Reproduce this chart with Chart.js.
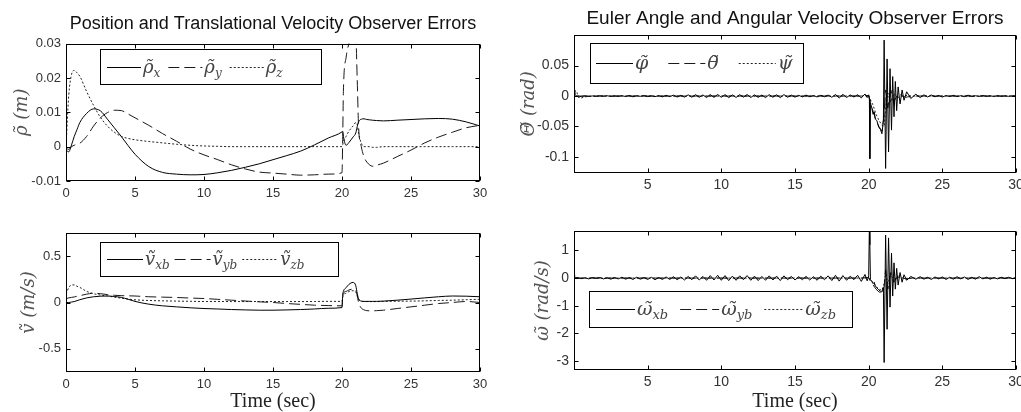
<!DOCTYPE html>
<html>
<head>
<meta charset="utf-8">
<script src="https://cdn.jsdelivr.net/npm/chart.js@4/dist/chart.umd.min.js"></script>
<style>
    html, body { margin: 0; padding: 0; background: #fff; overflow: hidden; width: 1021px; height: 412px; }
    .panel { position: absolute; }
</style>
</head>
<body>
<div class="panel" style="left:0;top:0"><canvas id="posChart" width="510" height="200"></canvas></div>
<div class="panel" style="left:510px;top:0"><canvas id="eulerChart" width="520" height="200"></canvas></div>
<div class="panel" style="left:0;top:200px"><canvas id="velChart" width="510" height="212"></canvas></div>
<div class="panel" style="left:510px;top:200px"><canvas id="omegaChart" width="520" height="212"></canvas></div>
<script>
// ---- data ----
// left column: position / translational velocity errors
const tPos = [0, 0.2, 0.4, 0.6, 0.8, 1, 1.5, 2, 2.5, 3, 3.5, 4, 4.5, 5, 6, 7, 8, 9, 10, 11, 12, 13, 14, 15, 16, 17, 18, 19, 20,
    20.05, 20.1, 20.3, 20.5, 20.8, 21, 21.1, 21.2, 21.4, 21.6, 21.8, 22, 22.2, 22.5, 23, 24, 25, 26, 27, 28, 29, 30];

const rhoX = [-0.001, -0.0015, 0.0005, 0.003, 0.005, 0.007, 0.0097, 0.011, 0.0104, 0.008, 0.0055, 0.003, 0.0003, -0.0022,
    -0.0058, -0.0075, -0.008, -0.0082, -0.0081, -0.0076, -0.0069, -0.006, -0.005, -0.0038, -0.0026, -0.0013, 0.0005, 0.0025, 0.0043,
    0.0045, 0.003, 0.0004, 0.0012, 0.0028, 0.004, 0.0058, 0.0072, 0.008, 0.0081, 0.0079, 0.0078, 0.0077, 0.0076,
    0.0075, 0.0077, 0.0079, 0.0081, 0.0082, 0.008, 0.0072, 0.006];
const rhoY = [-0.0005, -0.0008, 0, 0.0004, 0.0007, 0.001, 0.003, 0.006, 0.0084, 0.0099, 0.0106, 0.0105, 0.0095, 0.0084,
    0.0062, 0.0038, 0.0016, -0.0007, -0.0024, -0.0038, -0.0053, -0.0065, -0.0074, -0.0077, -0.008, -0.0083, -0.0082, -0.008, -0.0076,
    0.002, 0.016, 0.026, 0.03, 0.033, 0.032, 0.02, 0.006, 0, -0.003, -0.0045, -0.0053, -0.0057, -0.0054,
    -0.0048, -0.0029, -0.001, 0.0011, 0.0028, 0.0042, 0.0055, 0.0062];
const rhoZ = [0, 0.015, 0.021, 0.0222, 0.0215, 0.0205, 0.016, 0.012, 0.0085, 0.006, 0.0042, 0.003, 0.0024, 0.002,
    0.0015, 0.0011, 0.0007, 0.0004, 0.0002, 0.0001, 0, 0, 0, 0, 0, 0, 0, 0, 0,
    0.0005, 0.0015, 0.003, 0.0045, 0.006, 0.007, 0.0065, 0.004, 0.001, 0, 0, 0, -0.0002, -0.0002,
    0, 0, 0, 0, 0, 0, 0, 0];

const vXb = [0, 0, 0.005, 0.01, 0.02, 0.03, 0.05, 0.062, 0.068, 0.07, 0.065, 0.055, 0.035, 0.012,
    -0.018, -0.036, -0.047, -0.057, -0.065, -0.07, -0.076, -0.08, -0.083, -0.083, -0.08, -0.076, -0.07, -0.062, -0.055,
    0.08, 0.12, 0.16, 0.195, 0.217, 0.18, 0.1, 0.04, 0.015, 0.012, 0.012, 0.012, 0.012, 0.012,
    0.015, 0.025, 0.037, 0.05, 0.062, 0.07, 0.068, 0.062];
const vYb = [0.04, 0.05, 0.055, 0.06, 0.068, 0.074, 0.09, 0.1, 0.095, 0.085, 0.078, 0.074, 0.072, 0.07,
    0.062, 0.058, 0.054, 0.048, 0.043, 0.034, 0.025, 0.016, 0.007, 0, -0.011, -0.02, -0.029, -0.033, -0.036,
    0.06, 0.1, 0.12, 0.135, 0.145, 0.13, 0.08, 0, -0.06, -0.08, -0.088, -0.09, -0.09, -0.088,
    -0.083, -0.065, -0.047, -0.029, -0.011, 0, 0.011, 0];
const vZb = [0.09, 0.16, 0.19, 0.19, 0.175, 0.163, 0.12, 0.095, 0.08, 0.07, 0.058, 0.047, 0.037, 0.029,
    0.022, 0.018, 0.015, 0.013, 0.011, 0.011, 0.01, 0.01, 0.011, 0.01, 0.01, 0.01, 0.011, 0.012, 0.012,
    0.05, 0.08, 0.1, 0.118, 0.127, 0.11, 0.07, 0.035, 0.015, 0.01, 0.01, 0.01, 0.01, 0.01,
    0.012, 0.014, 0.015, 0.018, 0.022, 0.025, 0.03, 0.035];

// right column: euler angle / angular velocity errors (noisy solid traces)
const tAng = [0, 0.25, 0.5, 0.75, 1, 1.25, 1.5, 1.75, 2, 2.25, 2.5, 2.75, 3, 3.25, 3.5, 3.75, 4, 4.25, 4.5, 4.75,
    5, 5.25, 5.5, 5.75, 6, 6.25, 6.5, 6.75, 7, 7.25, 7.5, 7.75, 8, 8.25, 8.5, 8.75, 9, 9.25, 9.5, 9.75,
    10, 10.25, 10.5, 10.75, 11, 11.25, 11.5, 11.75, 12, 12.25, 12.5, 12.75, 13, 13.25, 13.5, 13.75, 14, 14.25, 14.5, 14.75,
    15, 15.25, 15.5, 15.75, 16, 16.25, 16.5, 16.75, 17, 17.25, 17.5, 17.75, 18, 18.25, 18.5, 18.75, 19, 19.25, 19.5, 19.75,
    19.9, 20.0, 20.05, 20.08, 20.12, 20.2, 20.3, 20.38, 20.45, 20.55, 20.68, 20.8, 20.9, 21.0, 21.05, 21.15, 21.25, 21.35,
    21.45, 21.55, 21.63, 21.72, 21.81, 21.9, 22.0, 22.13, 22.27, 22.4, 22.58, 22.86, 23.2,
    23.5, 23.75, 24, 24.25, 24.5, 24.75, 25, 25.25, 25.5, 25.75, 26, 26.25, 26.5, 26.75, 27, 27.25, 27.5, 27.75,
    28, 28.25, 28.5, 28.75, 29, 29.25, 29.5, 29.75, 30];

const phi = [0, 0.0005, -0.0005, 0.0003, -0.0008, 0.0002, -0.0005, 0.0004,
    -0.0003, 0.0005, -0.0006, 0.0002, -0.0004, 0.0006, -0.0008, 0.001,
    -0.0012, 0.0006, -0.0005, 0.0008, -0.0009, 0.0004, -0.001, 0.0007,
    -0.0013, 0.0011, -0.0009, 0.0014, -0.0016, 0.0012, -0.0018, 0.002,
    -0.0019, 0.0023, -0.0021, 0.0018, -0.0024, 0.0025, -0.0022, 0.0026,
    -0.002, 0.0024, -0.0026, 0.0019, -0.0023, 0.0022, -0.0018, 0.0025,
    -0.0024, 0.002, -0.0022, 0.0017, -0.0025, 0.0023, -0.0019, 0.0021,
    -0.0026, 0.0024, -0.002, 0.0015, -0.0018, 0.0012, -0.0014, 0.0016,
    -0.0012, 0.0009, -0.0015, 0.0013, -0.0011, 0.0016, -0.002, 0.0026,
    -0.0032, 0.0028, -0.0024, 0.0019, -0.0016, 0.0022, -0.003, 0.0034,
    -0.0025, 0.002, -0.005, -0.103, -0.012, -0.018, -0.03, -0.026, -0.038, -0.04,
    -0.051, -0.055, -0.062, -0.04, 0.092, -0.119, 0.061, -0.092, 0.045, -0.056,
    0.032, -0.034, 0.024, -0.024, 0.015, -0.013, 0.01, -0.007, 0.007, -0.004, 0.003,
    -0.0025, 0.002, -0.0015, 0.0018, -0.0012, 0.001, -0.0016, 0.0008, -0.0007, 0.0012,
    -0.0009, 0.0006, -0.001, 0.0014, -0.0008, 0.0005, -0.0006, 0.0009, -0.0005, 0.0004,
    -0.0007, 0.0006, -0.0004, 0.0003, -0.0005, 0.0004, -0.0002];

const omegaX = [0, 0.02, -0.02, 0.01, -0.03, 0.02, -0.01, 0.02,
    -0.03, 0.01, -0.04, 0.02, -0.03, 0.03, -0.04, 0.02,
    -0.05, 0.03, -0.04, 0.02, -0.05, 0.03, -0.06, 0.02,
    -0.05, 0.04, -0.05, 0.05, -0.06, 0.04, -0.07, 0.06,
    -0.06, 0.08, -0.07, 0.06, -0.08, 0.09, -0.07, 0.1,
    -0.08, 0.09, -0.09, 0.07, -0.08, 0.08, -0.06, 0.09,
    -0.08, 0.07, -0.09, 0.06, -0.08, 0.08, -0.07, 0.07,
    -0.09, 0.08, -0.06, 0.06, -0.07, 0.05, -0.06, 0.06,
    -0.07, 0.05, -0.08, 0.07, -0.06, 0.08, -0.09, 0.1,
    -0.11, 0.09, -0.08, 0.07, -0.06, 0.1, -0.12, 0.13,
    -0.1, 0.08, 1.9, 1.2, -0.05, -0.12, -0.2, -0.15, -0.3, -0.35,
    -0.42, -0.48, -0.5, -0.35, -3.05, 1.55, -1.85, 1.45, -1.05, 0.9,
    -0.65, 0.55, -0.4, 0.35, -0.25, 0.2, -0.15, 0.12, -0.08, 0.06, -0.04,
    0.05, -0.04, 0.03, -0.05, 0.04, -0.03, 0.04, -0.05, 0.03, -0.04,
    0.05, -0.03, 0.04, -0.05, 0.03, -0.04, 0.05, -0.03, 0.03, -0.04,
    0.02, -0.03, 0.03, -0.02, 0.03, -0.02, 0.01];

// sparser samples for the dashed / dotted traces (mostly hidden under the solid one)
const tAngS = [0, 0.05, 0.1, 0.2, 0.3, 0.5, 1, 2, 4, 6, 8, 10, 12, 14, 16, 18, 19.5, 20,
    20.1, 20.3, 20.5, 20.7, 20.9, 21.05, 21.15, 21.3, 21.5, 21.7, 22, 22.5, 23, 25, 27, 30];
const theta = [0.02, 0.008, 0.002, -0.003, -0.002, 0, 0, 0, 0, 0, 0, 0, 0, 0, 0, 0, 0, 0.001,
    -0.01, -0.025, -0.04, -0.05, -0.058, -0.03, 0.01, -0.02, 0.01, -0.01, 0.004, -0.002, 0, 0, 0, 0];
const psi = [0, 0.006, 0.009, 0.006, -0.002, -0.003, 0, 0, 0, 0, 0, 0, 0, 0, 0, 0, 0, 0.001,
    -0.005, -0.015, -0.03, -0.04, -0.048, -0.05, -0.02, 0.005, -0.01, 0.004, -0.002, 0.001, 0, 0, 0, 0];
const omegaY = [0.05, 0.03, 0.01, -0.02, -0.01, 0, 0, 0, 0, 0, 0, 0, 0, 0, 0, 0, 0, 0.02,
    -0.1, -0.25, -0.4, -0.5, -0.55, -0.3, 0.3, -0.4, 0.2, -0.15, 0.08, -0.03, 0, 0, 0, 0];
const omegaZ = [0.12, 0.1, 0.05, 0.02, 0, 0, 0, 0, 0, 0, 0, 0, 0, 0, 0, 0, 0, 0.01,
    -0.05, -0.15, -0.3, -0.4, -0.45, -0.2, 0.15, -0.2, 0.1, -0.05, 0.03, -0.01, 0, 0, 0, 0];

// labels and ticks
const posLabels = ['ρ̃_x', 'ρ̃_y', 'ρ̃_z'];
const velLabels = ['ṽ_xb', 'ṽ_yb', 'ṽ_zb'];
const eulerLabels = ['φ̃', 'θ̃', 'ψ̃'];
const omegaLabels = ['ω̃_xb', 'ω̃_yb', 'ω̃_zb'];

const xTicksLeft = [0, 5, 10, 15, 20, 25, 30];
const xTickLabelsLeft = ['0', '5', '10', '15', '20', '25', '30'];
const xTicksRight = [5, 10, 15, 20, 25, 30];
const xTickLabelsRight = ['5', '10', '15', '20', '25', '30'];
const posTicks = [-0.01, 0, 0.01, 0.02, 0.03];
const posTickLabels = ['-0.01', '0', '0.01', '0.02', '0.03'];
const velTicks = [-0.5, 0, 0.5];
const velTickLabels = ['-0.5', '0', '0.5'];
const eulerTicks = [-0.1, -0.05, 0, 0.05];
const eulerTickLabels = ['-0.1', '-0.05', '0', '0.05'];
const omegaTicks = [-3, -2, -1, 0, 1];
const omegaTickLabels = ['-3', '-2', '-1', '0', '1'];

// ---- drawing ----
const SANS = '"Liberation Sans", Arial, Helvetica, sans-serif';
const SERIF = '"Liberation Serif", "Times New Roman", serif';
const MATH = '"DejaVu Serif", serif';
const lineDashes = [[], [11, 5], [2, 2]];
const lineColors = ['#000', '#1a1a1a', '#222'];

function toPoints(ts, vs) {
    return ts.map((t, i) => ({ x: t, y: vs[i] }));
}

function makeDatasets(labels, times, series, smooth) {
    return series.map((s, i) => ({
        label: labels[i],
        data: toPoints(times[i], s),
        borderColor: lineColors[i],
        borderWidth: 1,
        borderDash: lineDashes[i],
        pointRadius: 0,
        fill: false,
        tension: smooth ? 0.4 : 0,
        cubicInterpolationMode: smooth ? 'monotone' : 'default'
    }));
}

// MATLAB style box: frame, inward ticks on all sides, boxed legend
const matlabBox = {
    id: 'matlabBox',
    afterDatasetsDraw(chart, args, opts) {
        const { ctx, chartArea: a } = chart;
        const xs = chart.scales.x;
        const ys = chart.scales.y;
        const L = Math.round(a.left) + 0.5, R = Math.round(a.right) - 0.5;
        const T = Math.round(a.top) + 0.5, B = Math.round(a.bottom) - 0.5;
        ctx.save();
        ctx.strokeStyle = '#000';
        ctx.lineWidth = 1;
        ctx.setLineDash([]);
        ctx.beginPath();
        xs.ticks.forEach(t => {
            const px = Math.round(xs.getPixelForValue(t.value)) + 0.5;
            ctx.moveTo(px, B); ctx.lineTo(px, B - opts.tick);
            ctx.moveTo(px, T); ctx.lineTo(px, T + opts.tick);
        });
        ys.ticks.forEach(t => {
            const py = Math.round(ys.getPixelForValue(t.value)) + 0.5;
            ctx.moveTo(L, py); ctx.lineTo(L + opts.tick, py);
            ctx.moveTo(R, py); ctx.lineTo(R - opts.tick, py);
        });
        ctx.stroke();
        ctx.strokeRect(L, T, R - L, B - T);

        const lg = opts.legend;
        if (lg) {
            ctx.fillStyle = '#fff';
            ctx.fillRect(lg.x, lg.y, lg.w, lg.h);
            ctx.strokeStyle = '#000';
            ctx.strokeRect(lg.x + 0.5, lg.y + 0.5, lg.w, lg.h);
            let cx = lg.x + lg.pad;
            const cy = Math.round(lg.y + lg.h / 2) + 0.5;
            chart.data.datasets.forEach(ds => {
                ctx.strokeStyle = ds.borderColor;
                ctx.setLineDash(ds.borderDash);
                ctx.beginPath();
                ctx.moveTo(cx, cy);
                ctx.lineTo(cx + lg.line, cy);
                ctx.stroke();
                cx += lg.line + 2;
                const parts = ds.label.split('_');
                ctx.fillStyle = '#444';
                ctx.textBaseline = 'alphabetic';
                ctx.textAlign = 'left';
                ctx.font = 'italic ' + lg.size + 'px ' + MATH;
                const base = cy + lg.size * 0.3;
                ctx.fillText(parts[0], cx, base);
                cx += ctx.measureText(parts[0]).width;
                if (parts[1]) {
                    ctx.font = 'italic ' + lg.sub + 'px ' + MATH;
                    ctx.fillText(parts[1], cx, base + 4);
                    cx += ctx.measureText(parts[1]).width;
                }
                cx += lg.gap;
            });
        }
        ctx.restore();
    }
};

function makeOptions(cfg) {
    return {
        responsive: false,
        animation: false,
        events: [],
        layout: { padding: { left: 0, right: cfg.padRight, top: cfg.padTop, bottom: 0 } },
        plugins: {
            legend: { display: false },
            tooltip: { enabled: false },
            title: cfg.title ? {
                display: true,
                text: cfg.title,
                fullSize: false,
                color: '#111',
                font: { family: SANS, size: cfg.titleSize, weight: 'normal', lineHeight: 1.2 },
                padding: cfg.titlePad
            } : { display: false },
            matlabBox: { tick: 4, legend: cfg.legend }
        },
        scales: {
            x: {
                type: 'linear',
                min: 0,
                max: 30,
                afterBuildTicks: s => { s.ticks = cfg.xTicks.map(v => ({ value: v })); },
                afterFit: s => { s.height = cfg.xHeight; },
                grid: { display: false, drawTicks: false },
                border: { display: false },
                ticks: {
                    autoSkip: false,
                    maxRotation: 0,
                    padding: cfg.xTickPad,
                    color: '#333',
                    font: { family: SANS, size: cfg.tickSize },
                    callback: (v, i) => cfg.xLabels[i]
                },
                title: cfg.xTitle ? {
                    display: true,
                    text: cfg.xTitle,
                    color: '#222',
                    font: { family: SERIF, size: 20, lineHeight: 1 },
                    padding: { top: 0, bottom: 0 }
                } : { display: false }
            },
            y: {
                type: 'linear',
                min: cfg.yMin,
                max: cfg.yMax,
                afterBuildTicks: s => { s.ticks = cfg.yTicks.map(v => ({ value: v })); },
                afterFit: s => { s.width = cfg.yWidth; },
                grid: { display: false, drawTicks: false },
                border: { display: false },
                ticks: {
                    autoSkip: false,
                    padding: 5,
                    color: '#333',
                    font: { family: SANS, size: cfg.tickSize },
                    callback: (v, i) => cfg.yLabels[i]
                },
                title: {
                    display: true,
                    text: cfg.yTitle,
                    color: '#555',
                    font: { family: MATH, size: 18, style: 'italic', lineHeight: 1.2 },
                    padding: { top: cfg.yTitlePad, bottom: 0 }
                }
            }
        }
    };
}

new Chart(document.getElementById('posChart'), {
    type: 'line',
    data: { datasets: makeDatasets(posLabels, [tPos, tPos, tPos], [rhoX, rhoY, rhoZ], true) },
    options: makeOptions({
        title: 'Position and Translational Velocity Observer Errors', titleSize: 18,
        titlePad: { top: 13, bottom: 9 }, padTop: 0, padRight: 30,
        xTicks: xTicksLeft, xLabels: xTickLabelsLeft, xHeight: 19, xTickPad: 5, tickSize: 13,
        yMin: -0.01, yMax: 0.03, yTicks: posTicks, yLabels: posTickLabels, yWidth: 66,
        yTitle: 'ρ̃ (m)', yTitlePad: 12,
        legend: { x: 100, y: 49, w: 221, h: 35, pad: 7, line: 34, gap: 8, size: 18, sub: 12 }
    }),
    plugins: [matlabBox]
});

new Chart(document.getElementById('velChart'), {
    type: 'line',
    data: { datasets: makeDatasets(velLabels, [tPos, tPos, tPos], [vXb, vYb, vZb], true) },
    options: makeOptions({
        title: null, padTop: 33, padRight: 30,
        xTicks: xTicksLeft, xLabels: xTickLabelsLeft, xHeight: 40, xTickPad: 5, tickSize: 13,
        xTitle: 'Time (sec)',
        yMin: -0.75, yMax: 0.75, yTicks: velTicks, yLabels: velTickLabels, yWidth: 66,
        yTitle: 'ṽ (m/s)', yTitlePad: 19,
        legend: { x: 100, y: 42, w: 238, h: 34, pad: 7, line: 36, gap: 5, size: 18, sub: 12 }
    }),
    plugins: [matlabBox]
});

new Chart(document.getElementById('eulerChart'), {
    type: 'line',
    data: { datasets: makeDatasets(eulerLabels, [tAng, tAngS, tAngS], [phi, theta, psi], false) },
    options: makeOptions({
        title: 'Euler Angle and Angular Velocity Observer Errors', titleSize: 19,
        titlePad: { top: 7, bottom: 5 }, padTop: 0, padRight: 14,
        xTicks: xTicksRight, xLabels: xTickLabelsRight, xHeight: 27, xTickPad: 4, tickSize: 14,
        yMin: -0.1265, yMax: 0.1007, yTicks: eulerTicks, yLabels: eulerTickLabels, yWidth: 64,
        yTitle: 'Θ̃ (rad)', yTitlePad: 9,
        legend: { x: 80, y: 43, w: 213, h: 40, pad: 6, line: 37, gap: 20, size: 19, sub: 13 }
    }),
    plugins: [matlabBox]
});

new Chart(document.getElementById('omegaChart'), {
    type: 'line',
    data: { datasets: makeDatasets(omegaLabels, [tAng, tAngS, tAngS], [omegaX, omegaY, omegaZ], false) },
    options: makeOptions({
        title: null, padTop: 31, padRight: 14,
        xTicks: xTicksRight, xLabels: xTickLabelsRight, xHeight: 42, xTickPad: 4, tickSize: 14,
        xTitle: 'Time (sec)',
        yMin: -3.32, yMax: 1.7, yTicks: omegaTicks, yLabels: omegaTickLabels, yWidth: 64,
        yTitle: 'ω̃ (rad/s)', yTitlePad: 23,
        legend: { x: 79, y: 91, w: 263, h: 36, pad: 7, line: 39, gap: 12, size: 19, sub: 13 }
    }),
    plugins: [matlabBox]
});
</script>
</body>
</html>
